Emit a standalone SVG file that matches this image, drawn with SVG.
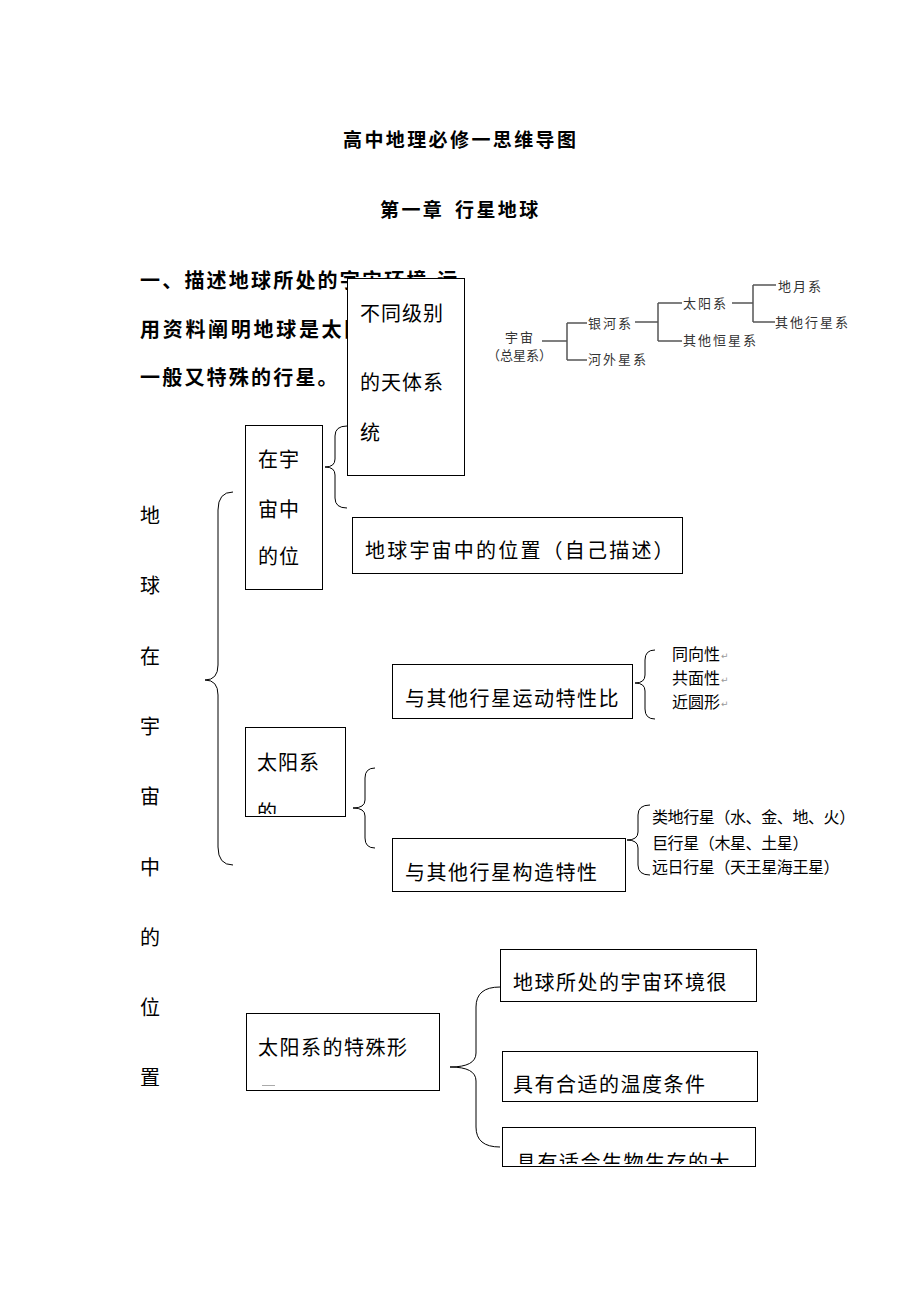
<svg xmlns="http://www.w3.org/2000/svg" width="920" height="1302" viewBox="0 0 920 1302">
<style>
text{font-family:"Noto Sans CJK SC","Noto Sans CJK JP",sans-serif;fill:#000}
.t{font-size:20px;letter-spacing:1.5px}
.h{font-size:20px;font-weight:bold;letter-spacing:2.2px}
.ti{font-size:19px;font-weight:bold;letter-spacing:2.4px}
.s{font-size:16px;letter-spacing:0}
.rm{font-family:"DejaVu Sans",sans-serif;font-size:9px;fill:#999}
.tr{font-size:13px;fill:#333;letter-spacing:2px}
.box{fill:#fff;stroke:#000;stroke-width:1}
.br{fill:none;stroke:#000;stroke-width:1}
.tl{stroke:#555;stroke-width:1.5;fill:none}
</style>
<defs>
<clipPath id="c5"><rect x="246" y="728" width="99" height="86"/></clipPath>
<clipPath id="c10"><rect x="503" y="1128" width="252" height="36"/></clipPath>
</defs>
<rect width="920" height="1302" fill="#fff"/>

<g id="title">
<text class="ti" x="343" y="147">高中地理必修一思维导图</text>
<text class="ti" x="380" y="217">第一章 <tspan x="455">行星地球</tspan></text>
</g>

<g id="heading">
<text class="h" x="140" y="288">一、描述地球所处的宇宙环境,运</text>
<text class="h" x="140" y="337" style="letter-spacing:2.7px">用资料阐明地球是太阳</text>
<text class="h" x="140" y="385">一般又特殊的行星。</text>
</g>

<g id="tree">
<g class="tl">
<path d="M542,341H567M567,323V360M567,323H587M567,360H587"/>
<path d="M635,322H658M658,303V341M658,303H682M658,341H682"/>
<path d="M732,303H753M753,285V322M753,285H776M753,322H775"/>
</g>
<text class="tr" x="505" y="342">宇宙</text>
<text class="tr" x="487" y="360" style="letter-spacing:0">（总星系）</text>
<text class="tr" x="588" y="328">银河系</text>
<text class="tr" x="588" y="364">河外星系</text>
<text class="tr" x="683" y="308">太阳系</text>
<text class="tr" x="683" y="345">其他恒星系</text>
<text class="tr" x="778" y="291">地月系</text>
<text class="tr" x="775" y="327">其他行星系</text>
</g>

<g id="root">
<text class="t" x="140" y="523">地</text>
<text class="t" x="140" y="593">球</text>
<text class="t" x="140" y="664">在</text>
<text class="t" x="140" y="734">宇</text>
<text class="t" x="140" y="804">宙</text>
<text class="t" x="140" y="875">中</text>
<text class="t" x="140" y="945">的</text>
<text class="t" x="140" y="1015">位</text>
<text class="t" x="140" y="1085">置</text>
</g>

<g id="connectors">
<path class="br" d="M233,492 Q218,492 218,510 L218,665 Q218,680 205,680 Q218,680 218,695 L218,847 Q218,865 233,865"/>
<path class="br" d="M347,426 Q335,426 335,436 L335,459 Q335,467 325,467 Q335,467 335,475 L335,498 Q335,508 347,508"/>
<path class="br" d="M655,650 Q645,650 645,660 L645,675 Q645,683 635,683 Q645,683 645,691 L645,709 Q645,719 655,719"/>
<path class="br" d="M375,768 Q365,768 365,778 L365,800 Q365,808 353,808 Q365,808 365,816 L365,838 Q365,848 375,848"/>
<path class="br" d="M650,805 Q638,805 638,815 L638,832 Q638,840 627,840 Q638,840 638,848 L638,865 Q638,875 650,875"/>
<path class="br" d="M500,987 Q476,987 476,1007 L476,1053 Q476,1067 450,1067 Q476,1067 476,1081 L476,1127 Q476,1147 500,1147"/>
</g>

<g id="n-levels">
<rect class="box" x="347.5" y="278.5" width="117" height="197"/>
<text class="t" x="360" y="321" style="letter-spacing:1px">不同级别</text>
<text class="t" x="360" y="390" style="letter-spacing:1px">的天体系</text>
<text class="t" x="360" y="440">统</text>
</g>

<g id="n-universe">
<rect class="box" x="245.5" y="425.5" width="77" height="164"/>
<text class="t" x="258" y="467" style="letter-spacing:1px">在宇</text>
<text class="t" x="258" y="517" style="letter-spacing:1px">宙中</text>
<text class="t" x="258" y="564" style="letter-spacing:1px">的位</text>
</g>

<g id="n-earthpos">
<rect class="box" x="352.5" y="517.5" width="330" height="56"/>
<text class="t" x="365" y="558" style="letter-spacing:2.2px">地球宇宙中的位置（自己描述）</text>
</g>

<g id="n-motion">
<rect class="box" x="392.5" y="664.5" width="240" height="54"/>
<text class="t" x="405" y="706">与其他行星运动特性比</text>
</g>

<g id="n-motion-items">
<text class="s" x="672" y="660">同向性</text><text class="rm" x="721" y="659">↵</text>
<text class="s" x="672" y="684">共面性</text><text class="rm" x="721" y="683">↵</text>
<text class="s" x="672" y="708">近圆形</text><text class="rm" x="721" y="707">↵</text>
</g>

<g id="n-solar">
<rect class="box" x="245.5" y="727.5" width="100" height="89"/>
<g clip-path="url(#c5)">
<text class="t" x="257" y="770" style="letter-spacing:1px">太阳系</text>
<text class="t" x="257" y="820">的</text>
</g>
</g>

<g id="n-structure">
<rect class="box" x="392.5" y="838.5" width="233" height="53"/>
<text class="t" x="405" y="880">与其他行星构造特性</text>
</g>

<g id="n-structure-items">
<text class="s" x="652" y="823" style="letter-spacing:-0.4px">类地行星（水、金、地、火）</text>
<text class="s" x="652" y="849" style="letter-spacing:-0.4px">巨行星（木星、土星）</text>
<text class="s" x="652" y="873" style="letter-spacing:-0.4px">远日行星（天王星海王星）</text>
</g>

<g id="n-special">
<rect class="box" x="246.5" y="1013.5" width="193" height="77"/>
<text class="t" x="258" y="1055">太阳系的特殊形</text>
<line x1="262" y1="1085.5" x2="275" y2="1085.5" stroke="#aaa" stroke-width="1"/>
</g>

<g id="n-env">
<rect class="box" x="500.5" y="949.5" width="256" height="52"/>
<text class="t" x="513" y="990">地球所处的宇宙环境很</text>
</g>

<g id="n-temp">
<rect class="box" x="502.5" y="1051.5" width="255" height="50"/>
<text class="t" x="513" y="1092">具有合适的温度条件</text>
</g>

<g id="n-atmo">
<rect class="box" x="502.5" y="1127.5" width="253" height="39"/>
<g clip-path="url(#c10)">
<text class="t" x="516" y="1170">具有适合生物生存的大</text>
</g>
</g>
</svg>
